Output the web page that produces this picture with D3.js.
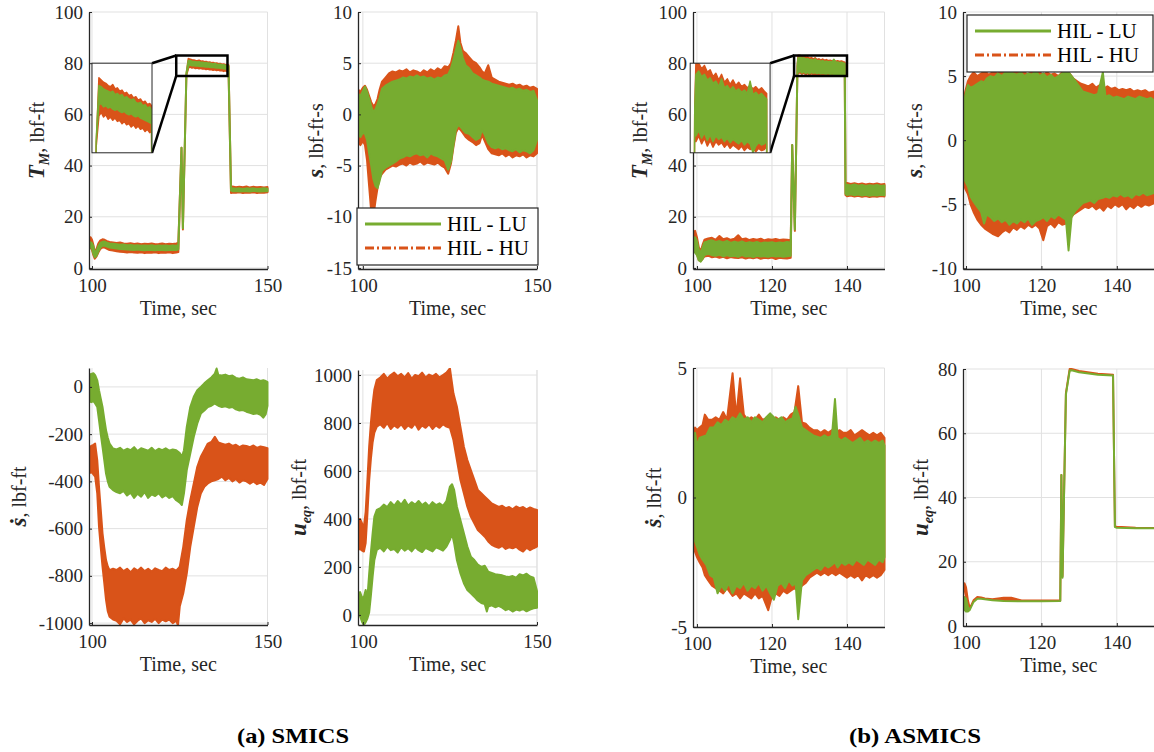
<!DOCTYPE html>
<html>
<head>
<meta charset="utf-8">
<script src="https://cdn.jsdelivr.net/npm/d3@7"></script>
<style>
  body { margin: 0; background: #fff; }
  svg { display: block; }
</style>
</head>
<body>
<script>
//////////////////////
// DATA: each row is [time (sec), lowest value, highest value]
const tmSmicsLU = [[99.2,8.5,10.3],[99.6,8.2,10],[100,7.6,9.6],[100.4,5.5,8.5],[100.8,4.2,5.8],[101.3,4.8,6.8],[101.8,6.5,8.5],[102.4,8,9.8],[103,8.8,10.2],[103.6,8.7,10.3],[104.3,8.4,9.9],[105,8,9.6],[106,7.8,9.5],[107,7.6,9.3],[108,7.4,9.1],[109,7.3,9.2],[110,7.2,8.9],[111,7.1,9],[112,7,8.8],[113,7.2,8.9],[114,7,8.7],[115,6.9,8.8],[116,7.1,8.7],[117,7,8.9],[118,6.9,8.6],[119,7.1,8.8],[120,7,8.7],[121,6.9,8.8],[122,7,8.6],[123,7.1,8.8],[124,7,8.7],[124.6,7.3,8.9],
  [125.5,47,47],[125.9,15.5,15.5],[126.9,76,76],
  [127.5,79.3,81],[128,79.4,80.9],[128.5,79.1,80.7],[129,79.2,80.6],[129.5,79,80.5],[130,79.1,80.4],[130.5,78.9,80.5],[131,78.8,80.2],[131.5,78.9,80.3],[132,78.7,80.1],[132.5,78.6,80.2],[133,78.7,79.9],[133.5,78.5,80],[134,78.4,79.8],[134.5,78.5,79.7],[135,78.3,79.8],[135.5,78.2,79.5],[136,78.3,79.4],[136.5,78.1,79.5],[137,78,79.2],[137.5,77.9,79.3],[138,77.8,79],[138.5,77.7,79.1],[138.9,77.6,78.8],
  [139.6,30.2,31],[140,30,31.1],[141,30.1,31],[142,29.9,31.1],[143,30,30.9],[144,30,31.1],[145,29.9,31],[146,30.1,31.1],[147,30,30.9],[148,29.9,31],[149,30,31.1],[150,30,31]];
const tmSmicsHU = [[99.2,8.5,11.8],[99.6,8,12],[100,7,11],[100.4,5,9],[100.8,3.6,6],[101.3,4.5,7.5],[101.8,6,9.5],[102.4,7.5,10.8],[103,8,11.2],[103.6,8,11],[104.3,7.5,10.5],[105,7,10.2],[106,6.8,10],[107,6.5,9.8],[108,6.3,10],[109,6.2,9.6],[110,6,9.5],[111,6.2,9.7],[112,6,9.4],[113,5.9,9.6],[114,6.1,9.3],[115,5.8,9.5],[116,6,9.4],[117,5.9,9.6],[118,6.1,9.3],[119,5.8,9.4],[120,6,9.6],[121,5.9,9.3],[122,6.1,9.5],[123,5.8,9.4],[124,6,9.6],[124.6,6.2,9.8],
  [125.5,47,47],[125.9,15,15],[126.9,75.5,75.5],
  [127.5,78.3,81.7],[128,78.6,81.5],[128.5,78.2,81.3],[129,78.4,81.2],[129.5,78,81],[130,78.2,80.9],[130.5,77.9,81.1],[131,78.1,80.7],[131.5,77.8,80.8],[132,77.9,80.5],[132.5,77.6,80.6],[133,77.8,80.3],[133.5,77.5,80.4],[134,77.6,80.1],[134.5,77.3,80.2],[135,77.5,79.9],[135.5,77.2,80],[136,77.4,79.7],[136.5,77.1,79.8],[137,77.2,79.5],[137.5,76.9,79.6],[138,77.1,79.3],[138.5,76.8,79.4],[138.9,76.9,79.2],
  [139.6,29.3,31.6],[140,29.5,31.8],[141,29.4,31.5],[142,29.6,31.7],[143,29.3,31.5],[144,29.5,31.8],[145,29.4,31.4],[146,29.6,31.7],[147,29.3,31.5],[148,29.5,31.6],[149,29.4,31.4],[150,29.6,31.6]];

const sSmicsLU = [[98.7,-2,2],[99.3,-2.2,1.8],[100,-1.8,2.3],[100.6,-1.9,2.7],[101.2,-2.5,2.2],[101.8,-3.8,1.5],[102.4,-5,0.8],[103,-6.3,0.2],[103.6,-7,0.5],[104.2,-7.2,1],[104.8,-6.5,1.6],[105.5,-5.5,2.5],[106.5,-5.2,2.8],[107.5,-5,3],[108.5,-4.8,3.2],[109.5,-4.6,3.3],[110.5,-4.3,3.4],[111.5,-4.2,3.6],[112.5,-4,3.5],[113.5,-4.1,3.7],[114.5,-3.9,3.6],[115.5,-3.8,3.8],[116.5,-4,3.6],[117.5,-3.9,3.7],[118.5,-4.2,3.5],[119.5,-3.8,3.6],[120.5,-4,3.4],[121.5,-4.1,3.6],[122.5,-4.3,3.5],[123.5,-4.5,3.8],[124.5,-5.4,3.9],[125.3,-4.6,4.5],[126,-3,5.3],[126.7,-1.5,6.3],[127.4,-1,7.2],[128,-1.2,6.5],[128.7,-1.5,5.5],[129.5,-1.8,4.8],[130.5,-1.9,4.5],[131.5,-2.2,4],[132.5,-2.5,3.8],[133.5,-2.3,3.6],[134.2,-1.5,3.4],[135,-2,3.3],[136,-2.8,3.2],[137,-3.2,3],[138,-3.3,2.9],[139,-3.2,2.8],[140,-3.4,2.7],[141,-3.3,2.6],[142,-3.5,2.5],[143,-3.6,2.6],[144,-3.4,2.4],[145,-3.7,2.5],[146,-3.5,2.3],[147,-3.6,2.4],[148,-3.8,2.2],[149,-3.5,2.3],[150,-2.5,1.4]];
const sSmicsHU = [[98.7,-2.8,2.4],[99.3,-3,2.2],[100,-2.6,2.6],[100.6,-3,2.8],[101.2,-4.5,2.4],[101.8,-7,1.8],[102.4,-9.5,1.2],[103,-10,0.8],[103.6,-8.5,1],[104.2,-7.2,1.5],[104.8,-6.2,2.4],[105.5,-5.8,3.2],[106.5,-5.4,3.6],[107.5,-5.2,4],[108.5,-5,4.2],[109.5,-5.1,4.1],[110.5,-4.9,4.3],[111.5,-4.8,4.2],[112.5,-5,4.4],[113.5,-4.7,4.1],[114.5,-4.9,4.3],[115.5,-4.8,4.2],[116.5,-4.6,4],[117.5,-4.9,4.3],[118.5,-4.7,4.1],[119.5,-4.8,4.4],[120.5,-4.9,4.2],[121.5,-4.7,4.5],[122.5,-5,4.3],[123.5,-5.2,4.7],[124.5,-5.8,4.6],[125.3,-4.8,5],[126,-3.2,6],[126.7,-1.8,7.2],[127.4,-1.3,8.6],[128,-1.5,7],[128.7,-1.8,6.2],[129.5,-2.2,6],[130.5,-2.5,5.6],[131.5,-2.7,5.2],[132.5,-3,5],[133.5,-2.8,4.6],[134.2,-2,4.2],[135,-2.6,4],[136,-3.4,4.8],[137,-3.8,3.6],[138,-3.9,3.4],[139,-4,3.2],[140,-3.8,3.1],[141,-4.1,3],[142,-3.9,2.9],[143,-4.2,3],[144,-4,2.8],[145,-4.1,2.9],[146,-3.9,2.7],[147,-4.2,2.8],[148,-4,2.6],[149,-4.1,2.7],[150,-3.8,2.5]];

const sdotSmicsLU = [[99.2,-60,50],[99.8,-65,55],[100.4,-60,58],[100.9,-70,50],[101.5,-85,28],[102,-141,-14],[102.5,-200,-50],[103,-254,-85],[103.5,-310,-135],[104,-367,-183],[104.5,-400,-215],[105,-423,-240],[106,-437,-261],[107,-445,-265],[108,-450,-258],[109,-440,-270],[110,-460,-262],[111,-448,-268],[112,-470,-255],[113,-452,-272],[114,-465,-260],[115,-445,-265],[116,-470,-270],[117,-455,-258],[118,-462,-272],[119,-450,-262],[120,-468,-268],[121,-458,-260],[122,-470,-270],[123,-462,-265],[124,-480,-268],[125,-490,-280],[125.6,-500,-296],[126.2,-451,-268],[127,-352,-169],[128,-282,-85],[129,-211,-42],[130,-155,-14],[131,-113,0],[132,-100,15],[133,-85,28],[134,-80,40],[135,-70,56],[135.5,-75,78],[136,-80,50],[137,-85,48],[138,-82,52],[139,-88,45],[140,-85,48],[141,-95,38],[142,-100,35],[143,-98,40],[144,-105,32],[145,-110,30],[146,-115,28],[147,-112,32],[148,-118,25],[148.8,-130,28],[149.5,-115,25],[150,-80,20]];
const sdotSmicsHU = [[99.2,-367,-254],[99.8,-360,-250],[100.4,-370,-245],[100.9,-380,-240],[101.5,-451,-310],[102,-592,-423],[102.5,-680,-520],[103,-761,-620],[103.5,-830,-680],[104,-902,-733],[104.5,-950,-760],[105,-973,-776],[106,-985,-770],[107,-990,-775],[108,-1005,-765],[109,-980,-780],[110,-995,-770],[111,-985,-785],[112,-1005,-768],[113,-990,-778],[114,-980,-765],[115,-1000,-780],[116,-988,-770],[117,-995,-782],[118,-982,-768],[119,-1000,-775],[120,-985,-780],[121,-992,-765],[122,-985,-775],[123,-1000,-770],[124,-990,-778],[124.5,-1010,-770],[125,-930,-761],[126,-874,-677],[127,-790,-564],[128,-677,-480],[129,-592,-409],[130,-508,-338],[131,-451,-296],[132,-423,-268],[133,-409,-240],[134,-400,-233],[135,-395,-211],[136,-390,-235],[137,-380,-240],[138,-395,-245],[139,-385,-240],[140,-400,-250],[141,-390,-245],[142,-405,-255],[143,-395,-248],[144,-400,-250],[145,-410,-255],[146,-400,-248],[147,-412,-258],[148,-405,-252],[149,-415,-255],[150,-390,-260]];

const ueqSmicsLU = [[98.6,0,90],[99.2,-5,95],[99.8,-30,70],[100.3,-42,75],[100.8,-30,104],[101.3,-15,70],[101.8,10,170],[102.3,80,260],[102.8,160,340],[103.3,229,410],[104,271,438],[105,280,445],[106,265,460],[107,285,450],[108,270,470],[109,275,455],[110,260,475],[111,282,460],[112,268,480],[113,278,455],[114,265,470],[115,283,460],[116,270,475],[117,262,458],[118,280,468],[119,272,452],[120,265,470],[121,282,458],[122,275,465],[123,268,455],[124,285,475],[125,313,535],[125.6,340,545],[126.2,299,521],[127,229,451],[128,174,396],[129,132,340],[130,104,285],[131,90,243],[132,76,229],[133,60,210],[134,50,200],[135,45,205],[135.6,14,190],[136,35,180],[137,40,175],[138,32,170],[139,38,168],[140,30,165],[141,20,160],[142,25,158],[143,14,162],[144,22,155],[145,18,170],[146,25,165],[147,15,172],[148,22,160],[149,28,155],[150,30,100]];
const ueqSmicsHU = [[98.6,271,396],[99.2,275,400],[99.8,268,380],[100.3,264,368],[100.8,300,430],[101.3,420,560],[101.8,560,700],[102.3,650,800],[102.8,720,880],[103.3,760,940],[104,785,979],[105,795,990],[106,780,1005],[107,800,985],[108,775,1000],[109,790,1010],[110,780,995],[111,795,1005],[112,775,990],[113,790,1008],[114,780,985],[115,798,1000],[116,772,995],[117,790,1010],[118,780,990],[119,795,1002],[120,775,995],[121,790,1005],[122,780,990],[123,795,1000],[124,785,1010],[125,780,1028],[126,729,924],[127,646,868],[128,563,785],[129,507,701],[130,451,646],[131,410,604],[132,382,563],[133,354,521],[134,340,507],[135,326,493],[136,306,479],[137,292,465],[138,285,458],[139,280,450],[140,288,455],[141,275,445],[142,282,450],[143,278,440],[144,284,452],[145,272,445],[146,264,450],[147,280,440],[148,270,448],[149,278,442],[150,285,438]];

const tmAsmicsLU = [[99,7,11.5],[99.5,6,12],[100,5,10.5],[100.5,3,7],[101,2.5,6],[101.5,3.5,8],[102,5,10],[103,5.5,10.5],[104,5,10.8],[105,4.8,10.2],[106,5.2,10.5],[107,4.5,10],[108,5,10.6],[109,4.6,9.8],[110,4.8,10.3],[111,4.4,9.9],[112,5,10.4],[113,4.5,9.7],[114,4.7,10.1],[115,4.3,9.8],[116,4.8,10.2],[117,4.5,9.6],[118,4.6,10],[119,4.4,9.9],[120,4.8,10.1],[121,4.5,9.7],[122,4.7,10],[123,4.4,9.8],[124,4.6,10.2],[125,4.8,9.9],
  [125.4,48,48],[126.1,15,15],[126.8,79,79],
  [127,76.5,82],[127.5,77,82.3],[128,76.3,81.8],[128.5,76.8,82],[129,76.1,81.5],[129.5,76.6,81.7],[130,76,81.2],[130.5,76.5,81.4],[131,76.2,80.9],[131.5,76.4,81.6],[132,76,80.8],[132.5,76.3,81],[133,75.9,80.6],[133.5,76.2,80.9],[134,76,80.5],[134.5,75.8,80.7],[135,76.1,80.4],[135.5,75.7,80.6],[136,76,80.3],[136.5,75.8,81.4],[137,75,80.2],[137.5,75.6,80.4],[138,75.9,80.1],[138.5,75.7,80.3],[139,75.8,80],[139.4,76,79.8],
  [139.6,29,32],[140,28.5,32.5],[141,28.8,32.2],[142,28.4,32.6],[143,28.7,32.1],[144,28.3,32.4],[145,28.6,32],[146,28.2,32.3],[147,28.5,32.1],[148,28.3,32.4],[149,28.6,32],[150,28.4,32.2]];
const tmAsmicsHU = [[99,8,13.5],[99.5,7,14.5],[100,5.5,12],[100.5,3,8],[101,2.8,6.5],[101.5,3.5,9],[102,4.5,11],[103,4.8,11.5],[104,4.2,11.8],[105,4.5,11],[106,4,12.5],[107,4.4,11.2],[108,3.8,11.6],[109,4.3,11],[110,4,11.4],[111,3.9,12.8],[112,4.2,11.2],[113,3.7,11.5],[114,4.1,10.9],[115,3.8,11.3],[116,4.2,11],[117,3.6,11.4],[118,4,10.8],[119,3.8,11.2],[120,4.1,11],[121,3.5,11.3],[122,4,10.9],[123,3.8,11.1],[124,3.7,11],[125,4,10.8],
  [125.4,48,48],[126.1,14.5,14.5],[126.8,79,79],
  [127,76,83],[127.5,76.5,83],[128,75.8,82.5],[128.5,76.3,82.8],[129,75.6,82.2],[129.5,76.1,82.4],[130,75.5,81.8],[130.5,76,82.1],[131,75.7,81.5],[131.5,75.9,82],[132,75.5,81.3],[132.5,75.8,81.6],[133,75.4,81.1],[133.5,75.7,81.5],[134,75.5,81],[134.5,75.3,81.3],[135,75.6,80.9],[135.5,75.2,81.1],[136,75.5,80.8],[136.5,75.3,81],[137,75.4,80.7],[137.5,75.1,80.9],[138,75.4,80.6],[138.5,75.2,80.8],[139,75.3,80.5],[139.4,75.6,80.3],
  [139.6,28.5,33],[140,28,33.2],[141,28.3,32.8],[142,27.9,33.1],[143,28.2,32.7],[144,27.8,33],[145,28.1,32.6],[146,27.7,32.9],[147,28,32.7],[148,27.8,33],[149,28.1,32.6],[150,27.9,32.8]];

const sAsmicsLU = [[99.3,-2.6,2.3],[99.8,-3.2,3.5],[100.5,-3.6,4.3],[101.2,-4.4,4.1],[102,-4.8,4.2],[103,-5.2,4.4],[104,-5.6,4.6],[104.8,-6.5,4.5],[105.5,-5.8,4.8],[106.5,-6,5],[107.5,-6.3,4.9],[108.5,-6.1,5.2],[109.5,-6.4,5],[110.5,-6.2,5.3],[111.5,-6.6,5.5],[112.5,-6.3,5.2],[113.5,-6.5,5.1],[114.5,-6.2,5.3],[115.5,-6.4,5],[116.5,-6.1,5.2],[117.5,-6.6,5.1],[118.5,-6.3,5.4],[119.5,-6.2,5],[120.5,-6,5.2],[121.5,-6.3,4.9],[122.5,-5.9,5.1],[123.5,-6.1,4.8],[124.5,-5.8,5],[125.5,-6,5.2],[126.5,-6.2,5.4],[127.2,-8.6,5.3],[128,-6,5],[129,-5.5,4.6],[130,-5.2,4.2],[131,-4.9,3.8],[132,-4.8,3.7],[133,-4.7,3.6],[134,-4.9,3.5],[135,-4.6,3.6],[136.3,-4.5,5.3],[137,-4.4,3.4],[138,-4.5,3.5],[139,-4.3,3.3],[140,-4.4,3.4],[141,-4.2,3.3],[142,-4.4,3.2],[143,-4.3,3.4],[144,-4.5,3.3],[145,-4.2,3.2],[146,-4.3,3.4],[147,-4.1,3.3],[148,-4.3,3.2],[149,-4.2,3.3],[150,-4.1,3.1]];
const sAsmicsHU = [[99.3,-3,2.8],[99.8,-3.8,3.8],[100.5,-4.2,4.6],[101.2,-5,5],[102,-5.6,5.3],[103,-6.2,5],[104,-6.6,5.2],[105,-6.9,5.4],[106,-7.1,5.1],[107,-7.3,5.3],[108.5,-7.5,5.2],[109.5,-7.2,5.4],[110.5,-7,5.2],[111.5,-7.2,5.5],[112.5,-6.8,5.3],[113.5,-7,5.4],[114.5,-6.7,5.2],[115.5,-6.9,5.3],[116.5,-6.6,5.1],[117.5,-6.8,5.4],[118.5,-6.6,5.2],[119.5,-6.9,5.3],[120.5,-7.8,5.1],[121.5,-6.7,5.3],[122.5,-6.5,5.1],[123.5,-6.8,5.2],[124.5,-6.4,5],[125.5,-6.6,5.3],[126.5,-6.5,5.4],[127.5,-6.2,5.2],[128.5,-5.8,4.8],[129.5,-5.6,4.6],[130.5,-5.4,4.4],[131.5,-5.2,4.3],[132.5,-5.3,4.2],[133.5,-5.1,4.4],[134.5,-5.4,4.1],[135.5,-5.2,4.3],[136.5,-5.5,4],[137.5,-5.1,4.2],[138.5,-5.3,4],[139.5,-5,4.1],[140.5,-5.2,3.9],[141.5,-5,4],[142.5,-5.4,3.9],[143.5,-5.1,4],[144.5,-5.3,3.8],[145.5,-5,3.9],[146.5,-5.2,3.8],[147.5,-5,3.9],[148.5,-5.1,3.7],[150,-4.9,3.8]];

const sdotAsmicsLU = [[99,-1.4,1.45],[99.5,-1.7,2.5],[100,-1.9,2],[100.7,-2.2,2.3],[101.5,-2.4,2.35],[102.5,-2.6,2.4],[103.5,-3,2.7],[104.5,-3.1,2.7],[105.5,-3.7,2.9],[106.5,-3.4,2.8],[107.5,-3.6,3],[108.5,-3.3,2.9],[109.5,-3.7,3.1],[110.5,-3.4,3],[111.5,-3.5,3.25],[112.5,-3.3,3],[113.5,-3.6,3.1],[114.5,-3.4,2.9],[115.5,-3.5,3.1],[116.5,-3.3,3],[117.5,-3.6,2.9],[118.5,-3.4,3.1],[119.5,-3.7,3.25],[120.5,-3.95,3.1],[121.5,-3.4,3],[122.5,-3.3,3.1],[123.5,-3.5,2.9],[124.5,-3.2,3],[125.5,-3.4,3.05],[126.3,-3.3,3.5],[127,-4.7,3.2],[128,-3.2,2.7],[129,-3,2.6],[130,-2.9,2.5],[131,-2.8,2.4],[132,-2.7,2.35],[133,-2.8,2.3],[134,-2.6,2.4],[135,-2.7,2.3],[136,-2.6,2.4],[136.8,-2.5,3.8],[137.5,-2.7,2.3],[138.5,-2.5,2.2],[139.5,-2.6,2.3],[140.5,-2.5,2.2],[141.5,-2.6,2.1],[142.5,-2.4,2.2],[143.5,-2.5,2.3],[144.5,-2.6,2.1],[145.5,-2.4,2.2],[146.5,-2.5,2.1],[147.5,-2.6,2.2],[148.5,-2.4,2.1],[149.5,-2.5,2.2],[150,-2.3,2]];
const sdotAsmicsHU = [[99,-1.8,1.8],[99.5,-2.1,2.7],[100,-2.3,2.6],[100.7,-2.5,2.7],[101.5,-2.7,2.8],[102.1,-3,3.2],[103,-3.2,3],[104,-3.4,3],[105,-3.5,3.1],[106,-3.6,3],[107,-3.7,3.3],[108,-3.5,3],[109.5,-3.8,4.8],[110.5,-3.7,3.1],[111.5,-3.9,4.6],[112.5,-3.7,3.2],[113.5,-3.8,3],[114.5,-3.9,3.1],[115.5,-3.7,3],[116.5,-3.9,3.2],[117.5,-3.8,3],[119,-4.35,3.1],[120,-3.8,3],[121,-3.7,3.1],[122,-3.8,3],[123,-3.6,3.1],[124,-3.7,3],[125,-3.6,3.2],[126,-3.5,3.3],[127,-3.6,4.3],[128,-3.4,2.9],[129,-3.3,2.85],[130,-3.1,2.7],[131,-3,2.6],[132,-2.9,2.6],[133,-3,2.5],[134,-2.9,2.6],[135,-3,2.5],[136,-2.9,2.6],[137,-3,2.5],[138,-2.9,2.6],[139,-3,2.5],[140,-3.1,2.5],[141,-3,2.6],[142,-3.1,2.4],[143,-3,2.5],[144,-3.2,2.6],[145,-3,2.5],[146,-3.1,2.4],[147,-3,2.5],[148,-3.1,2.4],[149,-3,2.5],[150,-2.8,2.3]];

const ueqAsmicsLU = [[99.2,7,9],[99.6,5,9],[100,4.5,8.5],[100.5,4.5,6],[101,5,5],[102,7.5,7.5],[103,8.5,8.5],[104,8.5,8.5],[105,8.3,8.3],[107,8,8],[110,7.8,7.8],[115,7.7,7.7],[120,7.7,7.7],[125,7.8,7.8],[125.3,47,47],[125.6,15,15],[126.5,72,72],[127.5,79.5,79.5],[128,79.6,79.6],[130,79,79],[135,78.2,78.2],[139,78,78],[139.5,30.8,30.8],[140,30.6,30.6],[145,30.4,30.4],[150,30.4,30.4]];
const ueqAsmicsHU = [[99.2,11,13],[99.6,11.5,13.3],[100,9,12],[100.5,5,8],[101,5.5,5.5],[102,8,8],[103,9,9],[104,8.9,8.9],[105,8.6,8.6],[107,8.3,8.3],[110,8,8.8],[112,8,8.8],[115,7.9,7.9],[120,7.9,7.9],[125,7.9,7.9],[125.3,47,47],[125.6,15.5,15.5],[126.5,72.5,72.5],[127.5,80,80],[128,80,80],[130,79.4,79.4],[135,78.5,78.5],[139,78.2,78.2],[139.5,31,31],[140,30.9,30.9],[145,30.6,30.6],[150,30.5,30.5]];

// tick labels
const timeTicksSmics = [100, 150];
const timeTicksAsmics = [100, 120, 140];
const tmTicks = [0, 20, 40, 60, 80, 100];
const sSmicsTicks = [-15, -10, -5, 0, 5, 10];
const sAsmicsTicks = [-10, -5, 0, 5, 10];
const sdotSmicsTicks = [-1000, -800, -600, -400, -200, 0];
const sdotAsmicsTicks = [-5, 0, 5];
const ueqSmicsTicks = [0, 200, 400, 600, 800, 1000];
const ueqAsmicsTicks = [0, 20, 40, 60, 80];
const legendNames = ["HIL - LU", "HIL - HU"];
const captions = ["(a) SMICS", "(b) ASMICS"];
//////////////////////

const W = 1154, H = 752;
const FONT = "'Liberation Serif', 'Times New Roman', serif";
const GREEN = "#77AC30", ORANGE = "#D95319", GRID = "#e1e1e1", INK = "#262626";

// axis label pieces: [text, style]  (b = bold italic, s = subscript bold italic)
const labels = {
  tm:   [["T", "b"], ["M", "s"], [", lbf-ft", ""]],
  s:    [["s", "b"], [", lbf-ft-s", ""]],
  sdot: [["\u1E61", "b"], [", lbf-ft", ""]],
  ueq:  [["u", "b"], ["eq", "s"], [", lbf-ft", ""]]
};

// box = [left, right, top, bottom] in px
const panels = [
  { box: [89, 267.5, 12, 269], xDom: [99.15, 150], yDom: [-0.4, 100], xt: timeTicksSmics, yt: tmTicks,
    lab: "tm", labX: 38, lu: tmSmicsLU, hu: tmSmicsHU,
    inset: { at: [100, 117.1, 45, 80], dom: [126, 139, 75, 83], rect: [124, 138.6, 75, 83] } },
  { box: [358, 537, 12, 269], xDom: [98.6, 150], yDom: [-15.1, 10], xt: timeTicksSmics, yt: sSmicsTicks,
    lab: "s", labX: 317, lu: sSmicsLU, hu: sSmicsHU, legend: [357, 538, 208, 265] },
  { box: [693, 884.5, 12, 269], xDom: [98.95, 150], yDom: [-0.4, 100], xt: timeTicksAsmics, yt: tmTicks,
    lab: "tm", labX: 641, lu: tmAsmicsLU, hu: tmAsmicsHU,
    inset: { at: [98.2, 119.5, 45, 80], dom: [126, 140, 75, 83], rect: [125.9, 140, 75, 83] } },
  { box: [963, 1154.5, 12, 269], xDom: [99.2, 150], yDom: [-10.05, 10], xt: timeTicksAsmics, yt: sAsmicsTicks,
    lab: "s", labX: 916, lu: sAsmicsLU, hu: sAsmicsHU, legend: [967, 1153, 15, 72] },
  { box: [89, 267.5, 368, 625], xDom: [99.15, 150], yDom: [-1008, 80], xt: timeTicksSmics, yt: sdotSmicsTicks,
    lab: "sdot", labX: 20, lu: sdotSmicsLU, hu: sdotSmicsHU },
  { box: [358, 537, 370, 625], xDom: [98.6, 150], yDom: [-42, 1021], xt: timeTicksSmics, yt: ueqSmicsTicks,
    lab: "ueq", labX: 300, lu: ueqSmicsLU, hu: ueqSmicsHU },
  { box: [693, 884.5, 368, 627], xDom: [98.95, 150], yDom: [-5, 5], xt: timeTicksAsmics, yt: sdotAsmicsTicks,
    lab: "sdot", labX: 655, lu: sdotAsmicsLU, hu: sdotAsmicsHU },
  { box: [963, 1154.5, 369, 626], xDom: [99.2, 150], yDom: [0, 80], xt: timeTicksAsmics, yt: ueqAsmicsTicks,
    lab: "ueq", labX: 922, lu: ueqAsmicsLU, hu: ueqAsmicsHU }
];

const svg = d3.select("body").append("svg")
  .attr("width", W).attr("height", H)
  .attr("font-family", FONT);
const defs = svg.append("defs");

// noisy trace drawn as the band between its lowest and highest readings
function drawBand(g, rows, x, y, color, w) {
  const area = d3.area().x(d => x(d[0])).y0(d => y(d[1])).y1(d => y(d[2]));
  g.append("path").datum(rows).attr("d", area)
    .attr("fill", color).attr("stroke", color)
    .attr("stroke-width", w).attr("stroke-linejoin", "round");
}

function addClip(id, x0, y0, w, h) {
  defs.append("clipPath").attr("id", id).append("rect")
    .attr("x", x0).attr("y", y0).attr("width", w).attr("height", h);
}

panels.forEach((p, i) => {
  const [l, r, t, b] = p.box;
  const x = d3.scaleLinear().domain(p.xDom).range([l, r]);
  const y = d3.scaleLinear().domain(p.yDom).range([b, t]);
  const g = svg.append("g");

  // grid
  g.selectAll(".gy").data(p.yt).join("line")
    .attr("x1", l).attr("x2", r).attr("y1", d => y(d)).attr("y2", d => y(d))
    .attr("stroke", GRID).attr("stroke-width", 1);
  g.selectAll(".gx").data(p.xt.concat([150])).join("line")
    .attr("y1", t).attr("y2", b).attr("x1", d => x(d)).attr("x2", d => x(d))
    .attr("stroke", GRID).attr("stroke-width", 1);

  // traces
  addClip("clip" + i, l, t - 2, r - l + 2, b - t + 2);
  const dg = g.append("g").attr("clip-path", `url(#clip${i})`);
  drawBand(dg, p.hu, x, y, ORANGE, 2);
  drawBand(dg, p.lu, x, y, GREEN, 2);

  // axes
  const ya = g.append("g").attr("transform", `translate(${l},0)`)
    .call(d3.axisLeft(y).tickValues(p.yt).tickSize(-3).tickSizeOuter(0).tickPadding(6).tickFormat(d => String(d)));
  const xa = g.append("g").attr("transform", `translate(0,${b})`)
    .call(d3.axisBottom(x).tickValues(p.xt).tickSize(-3).tickSizeOuter(0).tickPadding(10).tickFormat(d => String(d)));
  [ya, xa].forEach(a => {
    a.attr("font-family", FONT).attr("font-size", 19);
    a.select(".domain").attr("stroke", INK).attr("stroke-width", 1.3);
    a.selectAll(".tick line").attr("stroke", INK);
    a.selectAll(".tick text").attr("fill", INK);
  });

  // x label
  g.append("text").attr("x", (l + r) / 2).attr("y", b + 46)
    .attr("text-anchor", "middle").attr("font-size", 20).attr("fill", INK).text("Time, sec");

  // y label
  const yl = g.append("text")
    .attr("transform", `translate(${p.labX + 6},${(t + b) / 2}) rotate(-90)`)
    .attr("text-anchor", "middle").attr("font-size", 20).attr("fill", INK);
  labels[p.lab].forEach((piece, k) => {
    const ts = yl.append("tspan").text(piece[0]);
    if (piece[1] === "b") ts.attr("font-weight", "bold").attr("font-style", "italic").attr("font-size", 23);
    if (piece[1] === "s") ts.attr("font-weight", "bold").attr("font-style", "italic").attr("font-size", 14).attr("dy", 5);
    if (k > 0 && labels[p.lab][k - 1][1] === "s") ts.attr("dy", -5);
  });

  // zoom inset
  if (p.inset) {
    const ins = p.inset;
    const bx0 = x(ins.at[0]), bx1 = x(ins.at[1]), by0 = y(ins.at[3]), by1 = y(ins.at[2]);
    const rx0 = x(ins.rect[0]), rx1 = x(ins.rect[1]), ry0 = y(ins.rect[3]), ry1 = y(ins.rect[2]);
    g.append("line").attr("x1", bx1).attr("y1", by0).attr("x2", rx0).attr("y2", ry0)
      .attr("stroke", "#000").attr("stroke-width", 2.5);
    g.append("line").attr("x1", bx1).attr("y1", by1).attr("x2", rx0).attr("y2", ry1)
      .attr("stroke", "#000").attr("stroke-width", 2.5);
    g.append("rect").attr("x", rx0).attr("y", ry0).attr("width", rx1 - rx0).attr("height", ry1 - ry0)
      .attr("fill", "none").attr("stroke", "#000").attr("stroke-width", 2.5);

    const ix = d3.scaleLinear().domain([ins.dom[0], ins.dom[1]]).range([bx0, bx1]);
    const iy = d3.scaleLinear().domain([ins.dom[2], ins.dom[3]]).range([by1, by0]);
    g.append("rect").attr("x", bx0).attr("y", by0).attr("width", bx1 - bx0).attr("height", by1 - by0)
      .attr("fill", "#fff");
    addClip("iclip" + i, bx0, by0, bx1 - bx0, by1 - by0);
    const ig = g.append("g").attr("clip-path", `url(#iclip${i})`);
    drawBand(ig, p.hu, ix, iy, ORANGE, 1.5);
    drawBand(ig, p.lu, ix, iy, GREEN, 1.5);
    g.append("rect").attr("x", bx0).attr("y", by0).attr("width", bx1 - bx0).attr("height", by1 - by0)
      .attr("fill", "none").attr("stroke", INK).attr("stroke-width", 1);
  }

  // legend
  if (p.legend) {
    const [lx0, lx1, ly0, ly1] = p.legend;
    const lg = g.append("g");
    lg.append("rect").attr("x", lx0).attr("y", ly0).attr("width", lx1 - lx0).attr("height", ly1 - ly0)
      .attr("fill", "#fff").attr("stroke", INK).attr("stroke-width", 1.2);
    [[GREEN, null], [ORANGE, "9,3,2,3"]].forEach((s, k) => {
      const yy = ly0 + 16 + k * 24;
      lg.append("line").attr("x1", lx0 + 8).attr("x2", lx0 + 84).attr("y1", yy).attr("y2", yy)
        .attr("stroke", s[0]).attr("stroke-width", 3).attr("stroke-dasharray", s[1]);
      lg.append("text").attr("x", lx0 + 90).attr("y", yy + 7).attr("font-size", 21).attr("fill", "#000")
        .text(legendNames[k]);
    });
  }
});

// sub-figure captions, one under each group of panels
svg.selectAll(".cap").data(captions).join("text")
  .attr("x", (d, i) => i === 0 ? 237 : 849).attr("y", 743)
  .attr("textLength", (d, i) => i === 0 ? 112 : 132).attr("lengthAdjust", "spacingAndGlyphs")
  .attr("font-size", 21).attr("font-weight", "bold").attr("fill", "#000")
  .text(d => d);
</script>
</body>
</html>
